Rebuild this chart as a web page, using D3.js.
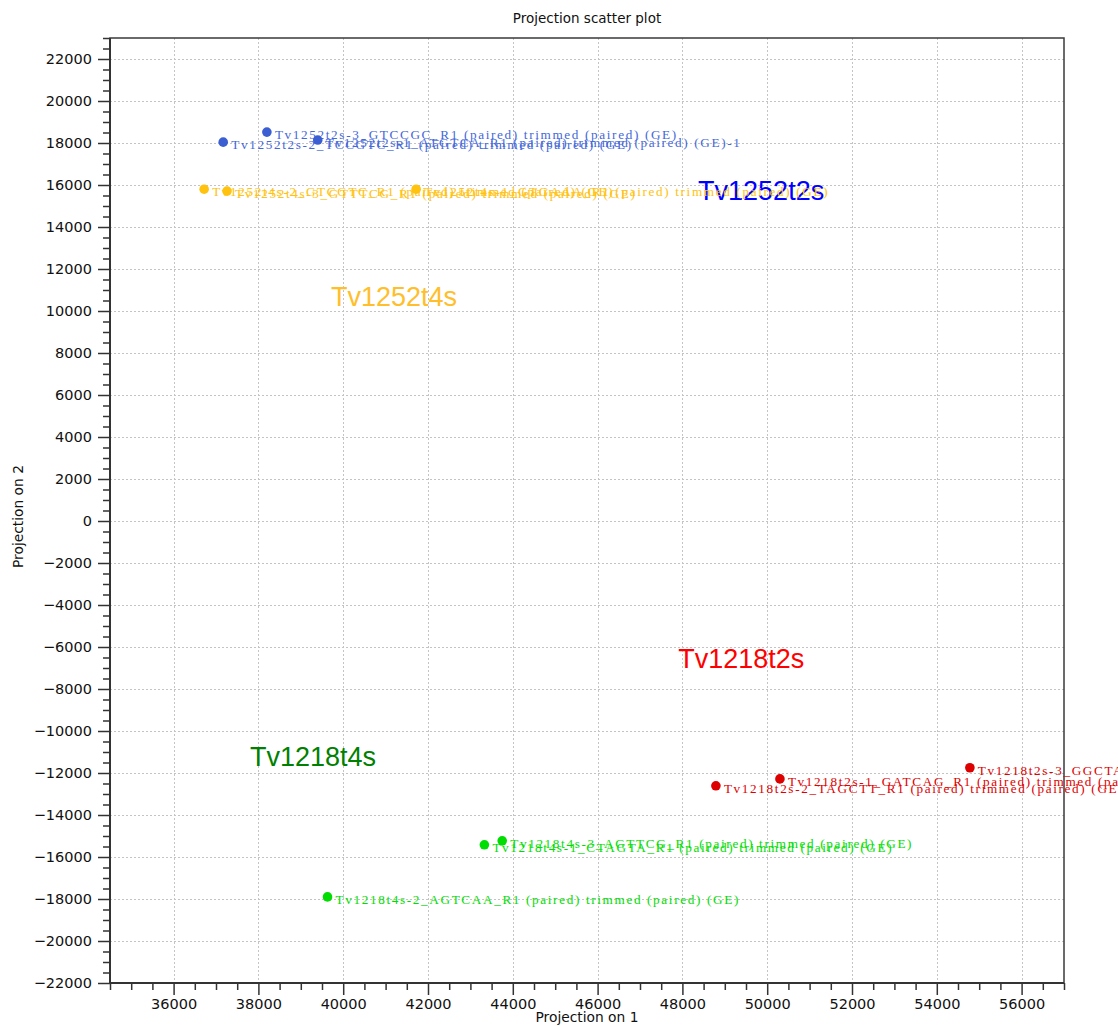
<!DOCTYPE html>
<html>
<head>
<meta charset="utf-8">
<script src="https://cdn.jsdelivr.net/npm/d3@7"></script>
<style>
  html, body { margin: 0; padding: 0; background: #fff; }
  svg { display: block; }
</style>
</head>
<body>
<svg id="chart" width="1118" height="1026"></svg>
<script>
// ---- data ----
const sampleNames = [
  "Tv1252t2s-2_TCCGTC_R1 (paired) trimmed (paired) (GE)",
  "Tv1252t2s-1_ATGTCA_R1 (paired) trimmed (paired) (GE)-1",
  "Tv1252t2s-3_GTCCGC_R1 (paired) trimmed (paired) (GE)",
  "Tv1252t4s-2_GTCGTC_R1 (paired) trimmed (paired) (GE)",
  "Tv1252t4s-3_GTTTCG_R1 (paired) trimmed (paired) (GE)",
  "Tv1252t4s-1_GTGAAA_R1 (paired) trimmed (paired) (GE)",
  "Tv1218t2s-2_TAGCTT_R1 (paired) trimmed (paired) (GE)",
  "Tv1218t2s-1_GATCAG_R1 (paired) trimmed (paired) (GE)",
  "Tv1218t2s-3_GGCTAC_R1 (paired) trimmed (paired) (GE)",
  "Tv1218t4s-1_CTAGTA_R1 (paired) trimmed (paired) (GE)",
  "Tv1218t4s-3_AGTTCG_R1 (paired) trimmed (paired) (GE)",
  "Tv1218t4s-2_AGTCAA_R1 (paired) trimmed (paired) (GE)"
];
const sampleGroup = [
  "Tv1252t2s","Tv1252t2s","Tv1252t2s",
  "Tv1252t4s","Tv1252t4s","Tv1252t4s",
  "Tv1218t2s","Tv1218t2s","Tv1218t2s",
  "Tv1218t4s","Tv1218t4s","Tv1218t4s"
];
const projection1 = [37170, 39400, 38200, 36720, 37260, 41720, 48790, 50300, 54780, 43330, 43750, 39630];
const projection2 = [18040, 18140, 18520, 15800, 15710, 15800, -12610, -12280, -11750, -15420, -15230, -17900];

const groupNames = ["Tv1252t2s", "Tv1252t4s", "Tv1218t2s", "Tv1218t4s"];
const groupLabelX = [48370, 39710, 47900, 37800];
const groupLabelY = [15280, 10220, -6990, -11660];

const xDomain = [34500, 57000];
const yDomain = [-22000, 23000];
const xMajorTicks = [36000, 38000, 40000, 42000, 44000, 46000, 48000, 50000, 52000, 54000, 56000];
const yMajorTicks = [-22000, -20000, -18000, -16000, -14000, -12000, -10000, -8000, -6000, -4000, -2000,
                     0, 2000, 4000, 6000, 8000, 10000, 12000, 14000, 16000, 18000, 20000, 22000];
const minorStep = 500;

// ---- styles ----
const pointColor = { "Tv1252t2s": "#3b5fd3", "Tv1252t4s": "#ffc20e", "Tv1218t2s": "#dd0000", "Tv1218t4s": "#00dd00" };
const textColor  = { "Tv1252t2s": "#4468da", "Tv1252t4s": "#ffc20e", "Tv1218t2s": "#e00000", "Tv1218t4s": "#00dd00" };
const groupColor = { "Tv1252t2s": "#0000ff", "Tv1252t4s": "#ffbe2a", "Tv1218t2s": "#ff0000", "Tv1218t4s": "#008000" };

const margin = { left: 110, right: 1064, top: 38, bottom: 983 };
const svg = d3.select("#chart");

const x = d3.scaleLinear().domain(xDomain).range([margin.left, margin.right]);
const y = d3.scaleLinear().domain(yDomain).range([margin.bottom, margin.top]);

const fmt = d3.format("d");
const tickFont = "'DejaVu Sans', 'Lucida Grande', sans-serif";

// grid
const grid = svg.append("g").attr("stroke", "#c4c4c4").attr("stroke-width", 1).attr("stroke-dasharray", "2,2");
grid.selectAll("line.gx").data(xMajorTicks).join("line")
  .attr("x1", d => Math.round(x(d)) + 0.5).attr("x2", d => Math.round(x(d)) + 0.5)
  .attr("y1", margin.top).attr("y2", margin.bottom);
grid.selectAll("line.gy").data(yMajorTicks).join("line")
  .attr("y1", d => Math.round(y(d)) + 0.5).attr("y2", d => Math.round(y(d)) + 0.5)
  .attr("x1", margin.left).attr("x2", margin.right);

// minor ticks
const xMinor = d3.range(xDomain[0], xDomain[1] + 1, minorStep).filter(v => !xMajorTicks.includes(v));
const yMinor = d3.range(yDomain[0], yDomain[1] + 1, minorStep).filter(v => !yMajorTicks.includes(v));

const xAxisMinor = d3.axisBottom(x).tickValues(xMinor).tickSize(7).tickFormat("");
const yAxisMinor = d3.axisLeft(y).tickValues(yMinor).tickSize(7).tickFormat("");
const xAxis = d3.axisBottom(x).tickValues(xMajorTicks).tickSize(12).tickPadding(4).tickFormat(fmt);
const yAxis = d3.axisLeft(y).tickValues(yMajorTicks).tickSize(12).tickPadding(6).tickFormat(fmt);

function styleAxis(g) {
  g.select(".domain").remove();
  g.selectAll(".tick line").attr("stroke", "#333").attr("stroke-width", 1.5);
  g.selectAll(".tick text").attr("fill", "#111").style("font-family", tickFont).style("font-size", "14.5px");
}
svg.append("g").attr("transform", `translate(0,${margin.bottom})`).call(xAxisMinor).call(styleAxis);
svg.append("g").attr("transform", `translate(${margin.left},0)`).call(yAxisMinor).call(styleAxis);
svg.append("g").attr("transform", `translate(0,${margin.bottom})`).call(xAxis).call(styleAxis);
svg.append("g").attr("transform", `translate(${margin.left},0)`).call(yAxis).call(styleAxis);

// frame
svg.append("rect")
  .attr("x", margin.left).attr("y", margin.top)
  .attr("width", margin.right - margin.left).attr("height", margin.bottom - margin.top)
  .attr("fill", "none").attr("stroke", "#3a3a3a").attr("stroke-width", 1.5);
svg.append("line").attr("x1", margin.left).attr("x2", margin.right).attr("y1", margin.bottom).attr("y2", margin.bottom)
  .attr("stroke", "#333").attr("stroke-width", 2);
svg.append("line").attr("x1", margin.left).attr("x2", margin.left).attr("y1", margin.top).attr("y2", margin.bottom)
  .attr("stroke", "#333").attr("stroke-width", 2);

// data
const points = sampleNames.map((n, i) => ({ name: n, group: sampleGroup[i], px: projection1[i], py: projection2[i] }));

// group labels
svg.append("g").selectAll("text").data(groupNames).join("text")
  .attr("x", (d, i) => x(groupLabelX[i]))
  .attr("y", (d, i) => y(groupLabelY[i]))
  .attr("fill", d => groupColor[d])
  .style("font-family", "'Liberation Sans', Arial, sans-serif")
  .style("font-size", "27px")
  .text(d => d);

// point labels
svg.append("g").selectAll("text").data(points).join("text")
  .attr("x", d => x(d.px) + 8)
  .attr("y", d => y(d.py) + 7)
  .attr("fill", d => textColor[d.group])
  .style("font-family", "'Liberation Serif', 'Times New Roman', serif")
  .style("font-size", "13.2px")
  .style("letter-spacing", "1.65px")
  .text(d => d.name);

// points
svg.append("g").selectAll("circle").data(points).join("circle")
  .attr("cx", d => x(d.px))
  .attr("cy", d => y(d.py))
  .attr("r", 4.8)
  .attr("fill", d => pointColor[d.group]);

// titles
svg.append("text").attr("x", (margin.left + margin.right) / 2).attr("y", 23)
  .attr("text-anchor", "middle").attr("fill", "#111")
  .style("font-family", tickFont).style("font-size", "13.5px")
  .text("Projection scatter plot");
svg.append("text").attr("x", (margin.left + margin.right) / 2).attr("y", 1022)
  .attr("text-anchor", "middle").attr("fill", "#111")
  .style("font-family", tickFont).style("font-size", "13.8px")
  .text("Projection on 1");
svg.append("text")
  .attr("transform", `translate(23,${(margin.top + margin.bottom) / 2 + 6}) rotate(-90)`)
  .attr("text-anchor", "middle").attr("fill", "#111")
  .style("font-family", tickFont).style("font-size", "13.8px")
  .text("Projection on 2");
</script>
</body>
</html>
